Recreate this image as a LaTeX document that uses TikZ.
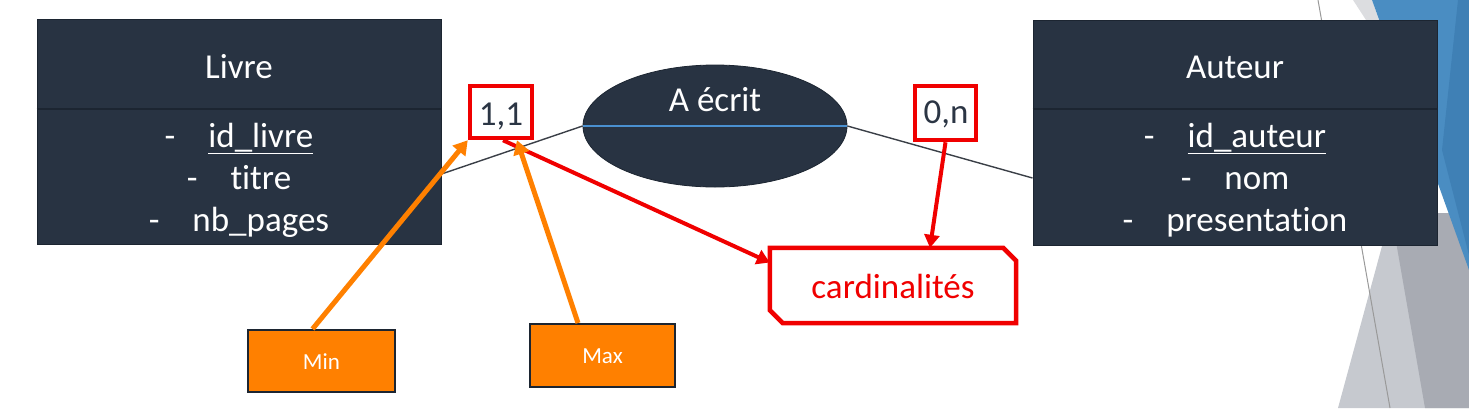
\documentclass[tikz,border=0pt]{standalone}
\usepackage{fontspec}
\setmainfont{Carlito}[Ligatures={NoCommon}]
\usetikzlibrary{arrows.meta,shapes.geometric}
\definecolor{navy}{HTML}{283342}
\definecolor{navyline}{HTML}{1C2531}
\definecolor{relblue}{HTML}{4A90D0}
\definecolor{cardred}{HTML}{F00000}
\definecolor{minorange}{HTML}{FF8000}
\definecolor{txtdark}{HTML}{2B3544}
\definecolor{bgblue}{HTML}{4A8DC2}
\definecolor{bgblue2}{HTML}{3F80B5}
\definecolor{bglight}{HTML}{C6C9CF}
\definecolor{bgdark}{HTML}{A8ABB3}
\definecolor{bgwedge}{HTML}{DCDDE0}
\definecolor{linkgrey}{HTML}{3A3F47}
\begin{document}
\begin{tikzpicture}[x=1pt,y=-1pt,
  entity/.style={draw=navyline, line width=1pt, fill=navy, minimum width=404pt, minimum height=225pt, inner sep=0pt},
  divider/.style={draw=navyline, line width=1.5pt},
  enttext/.style={text=white, font=\fontsize{35}{40}\selectfont, anchor=base, inner sep=0pt},
  relshape/.style={ellipse, draw=navyline, line width=0.8pt, fill=navy, minimum width=264pt, minimum height=122pt, inner sep=0pt},
  relline/.style={draw=relblue, line width=1.6pt},
  link/.style={draw=linkgrey, line width=1.4pt},
  cardbox/.style={draw=cardred, line width=4.5pt, fill=white, inner sep=0pt},
  cardtext/.style={text=txtdark, font=\fontsize{35}{40}\selectfont, anchor=base, inner sep=0pt},
  notebox/.style={minimum width=246pt, minimum height=75pt, inner sep=0pt},
  noteframe/.style={draw=cardred, line width=4.5pt, fill=white, line join=miter},
  minmax/.style={draw=navyline, line width=2pt, fill=minorange, inner sep=0pt},
  mmtext/.style={text=white, font=\fontsize{23}{28}\selectfont, anchor=base, inner sep=0pt},
  redarrow/.style={draw=cardred, line width=4pt, -{Triangle[width=15pt,length=13pt]}},
  orarrow/.style={draw=minorange, line width=5pt, -{Triangle[width=16pt,length=14pt]}}
]
\useasboundingbox (0,0) rectangle (1469,408);
% background decoration
\begin{scope}
\clip (0,0) rectangle (1469,408);
\fill[bgwedge] (1353,0) -- (1372,0) -- (1379,20) -- (1366,20) -- cycle;
\fill[bglight] (1338,408) -- (1391,213) -- (1469,213) -- (1469,408) -- cycle;
\fill[bgdark] (1425,408) -- (1391,213) -- (1469,213) -- (1469,408) -- cycle;
\fill[bgblue] (1372,0) -- (1469,0) -- (1469,270) -- cycle;
\fill[bgblue2] (1458,0) -- (1469,0) -- (1469,255) -- (1442,150) -- cycle;
\draw[draw=gray!80, line width=1pt] (1318,0) -- (1390,408);
\end{scope}

% entities
\node[entity] (livre) at (239,132) {};
\draw[divider] (livre.west |- 0,109) coordinate (ldl) -- (livre.east |- 0,109) coordinate (ldr);
\node[enttext] (livreT) at (239,78) {Livre};
\node[enttext] (livreA) at (239,147) {-\hspace{33pt}\underline{id\_livre}};
\node[enttext] (livreB) at (239,189) {-\hspace{33pt}titre};
\node[enttext] (livreC) at (239,231) {-\hspace{33pt}nb\_pages};

\node[entity] (auteur) at (1235,132.5) {};
\draw[divider] (auteur.west |- 0,109) coordinate (adl) -- (auteur.east |- 0,109) coordinate (adr);
\node[enttext] (auteurT) at (1235,78) {Auteur};
\node[enttext] (auteurA) at (1235,147) {-\hspace{33pt}\underline{id\_auteur}};
\node[enttext] (auteurB) at (1235,189) {-\hspace{33pt}nom};
\node[enttext] (auteurC) at (1235,231) {-\hspace{33pt}presentation};

% relation
\node[relshape] (rel) at (715,126) {};
\draw[relline] (rel.west) -- (rel.east);
\node[enttext] (relT) at (715,111) {A écrit};
\draw[link] ([yshift=-42pt]livre.east) -- (rel.west);
\draw[link] (rel.east) -- ([yshift=-45.5pt]auteur.west);

% cardinalities
\node[cardbox, minimum width=62pt, minimum height=52pt] (c11) at (501,112) {};
\node[cardtext] (c11T) at (501,125) {1,1};
\node[cardbox, minimum width=61pt, minimum height=54pt] (c0n) at (945.5,113) {};
\node[cardtext] (c0nT) at (946,123) {0,n};

% note box (chamfered north-east and south-west corners)
\node[notebox] (card) at (893,285.5) {};
\draw[noteframe] (card.north west) -- ([xshift=-13pt]card.north east) -- ([yshift=-13pt]card.north east)
  -- (card.south east) -- ([xshift=13pt]card.south west) -- ([yshift=13pt]card.south west) -- cycle;
\node[anchor=base, inner sep=0pt, text=cardred, font=\fontsize{35}{40}\selectfont] (cardT) at (893,298) {cardinalités};

% min / max boxes
\node[minmax, minimum width=147pt, minimum height=62pt] (min) at (321.5,361) {};
\node[mmtext] (minT) at (321.5,369) {Min};
\node[minmax, minimum width=145pt, minimum height=63pt] (max) at (602.5,355.5) {};
\node[mmtext] (maxT) at (602.5,363) {Max};

% arrows
\draw[redarrow] ([xshift=2pt]c11.south) -- ([yshift=23pt]card.west);
\draw[redarrow] (c0n.south) -- ([xshift=37pt]card.north);
\draw[orarrow] ([xshift=-9pt]min.north) -- (c11.south west);
\draw[orarrow] ([xshift=-24.5pt]max.north) -- ([xshift=16pt]c11.south);
\end{tikzpicture}
\end{document}
